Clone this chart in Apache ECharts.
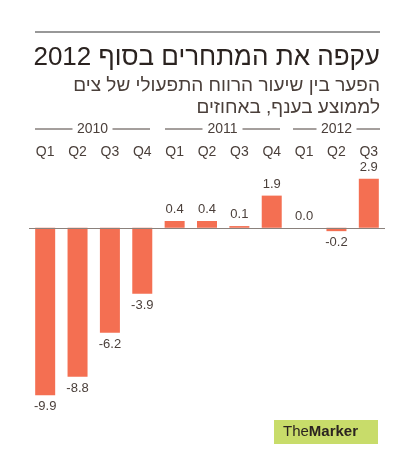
<!DOCTYPE html>
<html><head><meta charset="utf-8">
<script src="https://cdn.jsdelivr.net/npm/echarts@6/dist/echarts.min.js"></script>
<style>html,body{margin:0;padding:0;background:#fff}#c{width:420px;height:467px}</style>
</head><body><div id="c"></div>
<script>
const categories = ['Q1','Q2','Q3','Q4','Q1','Q2','Q3','Q4','Q1','Q2','Q3'];
const values = [-9.9,-8.8,-6.2,-3.9,0.4,0.4,0.1,1.9,0.0,-0.2,2.9];
const years = ['2010','2011','2012'];
const txt = '#4a3f3a';
const chart = echarts.init(document.getElementById('c'));
function yearGroup(label, x1, x2, y){
  const cx=(x1+x2)/2;
  return [
    {type:'line',shape:{x1:x1,y1:y,x2:cx-20,y2:y},style:{stroke:txt,lineWidth:1}},
    {type:'line',shape:{x1:cx+20,y1:y,x2:x2,y2:y},style:{stroke:txt,lineWidth:1}},
    {type:'text',x:cx,y:y,style:{text:label,fill:txt,font:'14px "Liberation Sans", Arial',align:'center',verticalAlign:'middle'}}
  ];
}
chart.setOption({
  animation:false,
  grid:{left:29,right:35,top:177,bottom:70},
  xAxis:{type:'category',data:categories,position:'top',axisLine:{show:false},axisTick:{show:false},
    axisLabel:{color:txt,fontSize:14,fontFamily:'Liberation Sans, Arial',margin:18}},
  yAxis:{type:'value',min:-10,max:3,show:false,splitLine:{show:false}},
  series:[{type:'bar',data:values.map(v=>({value:v,label:{position:v<0?'bottom':'top'}})),barWidth:20,itemStyle:{color:'#f46f52'},
    label:{show:true,color:txt,fontSize:13,fontFamily:'Liberation Sans, Arial',
      formatter:p=>p.value.toFixed(1)},
    markLine:{silent:true,symbol:'none',label:{show:false},lineStyle:{color:'#8a817c',width:1,type:'solid'},data:[{yAxis:0}]}
  }],
  graphic:[
    {type:'line',shape:{x1:35,y1:32,x2:380,y2:32},style:{stroke:'#333',lineWidth:1.2}},
    {type:'text',x:380,y:58,style:{text:'עקפה את המתחרים בסוף 2012',fill:'#2b2320',font:'26px "Liberation Sans", Arial',align:'right',verticalAlign:'middle'}},
    {type:'text',x:380,y:86,style:{text:'הפער בין שיעור הרווח התפעולי של צים',fill:txt,font:'19px "Liberation Sans", Arial',align:'right',verticalAlign:'middle'}},
    {type:'text',x:380,y:108,style:{text:'לממוצע בענף, באחוזים',fill:txt,font:'19px "Liberation Sans", Arial',align:'right',verticalAlign:'middle'}},
    ...yearGroup(years[0],35,150,129),
    ...yearGroup(years[1],165,280,129),
    ...yearGroup(years[2],293,380,129),
    {type:'rect',shape:{x:274,y:420,width:104,height:24},style:{fill:'#c8dc6a'}},
    {type:'text',x:283,y:432,style:{text:'{a|The}{b|Marker}',rich:{a:{fill:'#2b2320',font:'15px "Liberation Sans", Arial'},b:{fill:'#2b2320',font:'bold 15px "Liberation Sans", Arial'}},verticalAlign:'middle'}}
  ]
});
</script></body></html>
